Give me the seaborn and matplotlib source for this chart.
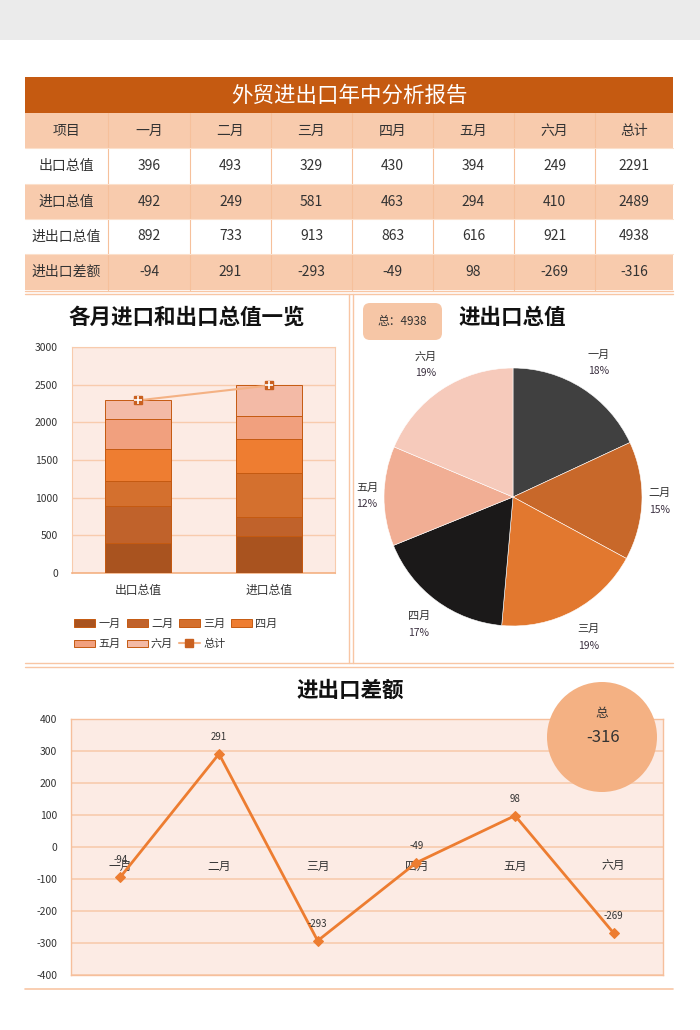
import numpy as np
import pandas as pd
import matplotlib
matplotlib.use('Agg')
import matplotlib.pyplot as plt
import seaborn as sns
from matplotlib.patches import Rectangle, FancyBboxPatch, Circle, Patch
from matplotlib.lines import Line2D

# ---------------- data ----------------
months = ['一月', '二月', '三月', '四月', '五月', '六月']
export_vals = [396, 493, 329, 430, 394, 249]
import_vals = [492, 249, 581, 463, 294, 410]
total_vals = [892, 733, 913, 863, 616, 921]
diff_vals = [-94, 291, -293, -49, 98, -269]
sum_export = 2291
sum_import = 2489
sum_total = 4938
sum_diff = -316
row_names = ['出口总值', '进口总值', '进出口总值', '进出口差额']
header = ['项目'] + months + ['总计']
bar_cats = ['出口总值', '进口总值']
bar_ticks = [0, 500, 1000, 1500, 2000, 2500, 3000]
line_ticks = [-400, -300, -200, -100, 0, 100, 200, 300, 400]
pie_pct_labels = ['18%', '15%', '19%', '17%', '12%', '19%']

# ---------------- style ----------------
sns.set_theme(style='white')
plt.rcParams['font.family'] = ['Noto Sans CJK SC', 'DejaVu Sans']
plt.rcParams['axes.unicode_minus'] = False

TXT = '#333333'
PEACH = '#f8cbad'
DARK_OR = '#c55a11'
bar_colors = ['#a9531f', '#c0622b', '#d4702e', '#ee7d31', '#f1a07e', '#f3baa6']
pie_colors = ['#404040', '#c8682a', '#e2782f', '#1b1919', '#f1ae94', '#f6cabb']

W, H = 700, 1030
fig = plt.figure(figsize=(7, 10.3), dpi=100)
fig.patch.set_facecolor('white')


def fx(x):
    return x / W


def fy(y):
    return 1 - y / H


# background pixel-coordinate axes
bg = fig.add_axes([0, 0, 1, 1], zorder=0)
bg.set_xlim(0, W)
bg.set_ylim(H, 0)
bg.axis('off')

bg.add_patch(Rectangle((0, 0), W, 40, fc='#ebebeb', ec='none'))

# ---------------- table ----------------
col_edges = [25, 108, 190, 271, 352, 433, 514, 595, 673]
row_edges = [113, 148, 184, 219, 254, 290]
bg.add_patch(Rectangle((25, 77), 648, 36, fc=DARK_OR, ec='none'))
bg.text(349, 96, '外贸进出口年中分析报告', color='white', fontsize=15.5,
        ha='center', va='center')
row_fill = [PEACH, 'white', PEACH, 'white', PEACH]
for r in range(5):
    y0, y1 = row_edges[r], row_edges[r + 1]
    bg.add_patch(Rectangle((25, y0), 648, y1 - y0, fc=row_fill[r], ec='none'))
    if r == 0:
        cells = header
    else:
        i = r - 1
        if i == 0:
            vals = export_vals + [sum_export]
        elif i == 1:
            vals = import_vals + [sum_import]
        elif i == 2:
            vals = total_vals + [sum_total]
        else:
            vals = diff_vals + [sum_diff]
        cells = [row_names[i]] + [str(v) for v in vals]
    for c in range(8):
        xc = (col_edges[c] + col_edges[c + 1]) / 2
        bg.text(xc, (y0 + y1) / 2, cells[c], color=TXT, fontsize=10,
                ha='center', va='center')
for x in col_edges[1:-1]:
    bg.plot([x, x], [113, 290], color='#f6c09b', lw=0.8)
for y in row_edges[1:-1]:
    bg.plot([25, 673], [y, y], color='#fbe0cc', lw=0.8)

# panel frame lines
LC = '#f8c6a4'
for y in (291, 294):
    bg.plot([25, 673], [y, y], color=LC, lw=1)
for x in (349, 353):
    bg.plot([x, x], [294, 663], color=LC, lw=1)
for y in (663, 667):
    bg.plot([25, 673], [y, y], color=LC, lw=1)
bg.plot([25, 673], [989, 989], color=LC, lw=1.2)

# ---------------- stacked bar chart ----------------
ax_bar = fig.add_axes([fx(72), fy(573), fx(335) - fx(72), fy(347) - fy(573)], zorder=2)
ax_bar.set_facecolor('#fcebe4')
stack = np.array([export_vals, import_vals]).T
cum = np.cumsum(stack, axis=0)
for i in reversed(range(len(months))):
    sns.barplot(x=bar_cats, y=cum[i], color=bar_colors[i], width=0.5,
                saturation=1, edgecolor=DARK_OR, linewidth=0.7,
                ax=ax_bar, zorder=3)
sns.lineplot(x=[0, 1], y=[sum_export, sum_import], color='#f4b183', lw=1.5,
             ax=ax_bar, zorder=4)
ax_bar.plot([0, 1], [sum_export, sum_import], 's', ms=6, color='#c9601f', zorder=5)
ax_bar.plot([0, 1], [sum_export, sum_import], '+', ms=6, mew=1.2, color='white', zorder=6)
ax_bar.set_xlim(-0.5, 1.5)
ax_bar.set_ylim(0, 3000)
ax_bar.set_yticks(bar_ticks)
ax_bar.set_yticklabels([str(t) for t in bar_ticks], fontsize=7.5, color=TXT)
ax_bar.set_xlabel('')
ax_bar.set_ylabel('')
ax_bar.tick_params(axis='both', length=0)
ax_bar.tick_params(axis='x', pad=8, labelsize=8.5, labelcolor=TXT)
ax_bar.tick_params(axis='y', pad=10)
ax_bar.yaxis.grid(True, color=PEACH, lw=1, zorder=0)
ax_bar.set_axisbelow(True)
for s in ax_bar.spines.values():
    s.set_color(PEACH)
    s.set_linewidth(0.8)
ax_bar.spines['bottom'].set_color('#f4b183')
ax_bar.spines['bottom'].set_linewidth(1.2)

handles = [Patch(fc=bar_colors[i], ec=DARK_OR, lw=0.7) for i in range(6)]
handles.append(Line2D([0], [0], color='#f4b183', lw=1.5, marker='s', ms=6,
                      mfc='#c9601f', mec='#c9601f'))
labels = months + ['总计']
order = [0, 4, 1, 5, 2, 6, 3]
fig.legend([handles[k] for k in order], [labels[k] for k in order],
           ncol=4, loc='center', bbox_to_anchor=(fx(176), fy(634)),
           frameon=False, fontsize=8, handlelength=1.9, handleheight=0.6,
           handletextpad=0.3, columnspacing=0.5, labelspacing=0.9,
           labelcolor=TXT)

# ---------------- pie chart ----------------
cx, cy, rad = 513, 497, 129
ax_pie = fig.add_axes([fx(cx - rad), fy(cy + rad), 2 * rad / W, 2 * rad / H], zorder=2)
wedges, _ = ax_pie.pie(total_vals, colors=pie_colors, startangle=90,
                       counterclock=False, radius=1,
                       wedgeprops=dict(edgecolor='white', linewidth=0.4))
ax_pie.set_xlim(-1, 1)
ax_pie.set_ylim(-1, 1)
for w, m, p in zip(wedges, months, pie_pct_labels):
    ang = np.deg2rad((w.theta1 + w.theta2) / 2)
    r = 1.13 + 0.12 * abs(np.sin(ang))
    x, y = r * np.cos(ang), r * np.sin(ang)
    ax_pie.text(x, y + 0.065, m, ha='center', va='center', fontsize=8, color=TXT)
    ax_pie.text(x, y - 0.065, p, ha='center', va='center', fontsize=7.5, color='#3b3040')

# ---------------- line chart ----------------
ax_line = fig.add_axes([fx(71), fy(975), fx(663) - fx(71), fy(719) - fy(975)], zorder=2)
ax_line.set_facecolor('#fcebe4')
sns.lineplot(x=np.arange(len(months)), y=diff_vals, color='#ed7d31', lw=2,
             marker='D', markersize=5, markeredgecolor='#ed7d31', ax=ax_line, zorder=4)
ax_line.set_xlim(-0.5, 5.5)
ax_line.set_ylim(-400, 400)
ax_line.set_yticks(line_ticks)
ax_line.set_yticklabels([str(t) for t in line_ticks], fontsize=7.5, color=TXT)
ax_line.set_xticks([])
ax_line.tick_params(axis='both', length=0)
ax_line.tick_params(axis='y', pad=10)
ax_line.yaxis.grid(True, color=PEACH, lw=1.2, zorder=0)
ax_line.set_axisbelow(True)
for s in ax_line.spines.values():
    s.set_color('#f6bf9c')
    s.set_linewidth(1)
for i, (m, v) in enumerate(zip(months, diff_vals)):
    ax_line.annotate(m, (i, 0), xytext=(0, -14), textcoords='offset points',
                     ha='center', va='center', fontsize=8.5, color=TXT, zorder=3)
    ax_line.annotate(str(v), (i, v), xytext=(0, 12), textcoords='offset points',
                     ha='center', va='center', fontsize=7, color=TXT, zorder=5)
ax_line.set_xlabel('')
ax_line.set_ylabel('')

# ---------------- overlay: titles, badges ----------------
top = fig.add_axes([0, 0, 1, 1], zorder=10)
top.set_xlim(0, W)
top.set_ylim(H, 0)
top.axis('off')
top.patch.set_alpha(0)

top.text(187, 317, '各月进口和出口总值一览', fontsize=15.5, fontweight='bold',
         color='#111111', ha='center', va='center')
top.text(512, 317, '进出口总值', fontsize=15.5, fontweight='bold',
         color='#111111', ha='center', va='center')
top.text(350, 690, '进出口差额', fontsize=15.5, fontweight='bold',
         color='#111111', ha='center', va='center')

top.add_patch(FancyBboxPatch((366, 306), 73, 31, boxstyle='round,pad=3,rounding_size=7',
                             fc='#f6c6a6', ec='none'))
top.text(402, 322, f'总：{sum_total}', fontsize=8.5, color=TXT, ha='center', va='center')

top.add_patch(Circle((602, 737), 55, fc='#f4b183', ec='none', zorder=3))
top.text(602, 713, '总', fontsize=9, color=TXT, ha='center', va='center', zorder=4)
top.text(603, 738, str(sum_diff), fontsize=12, color=TXT, ha='center', va='center', zorder=4)

fig.savefig('out.png', dpi=100)
